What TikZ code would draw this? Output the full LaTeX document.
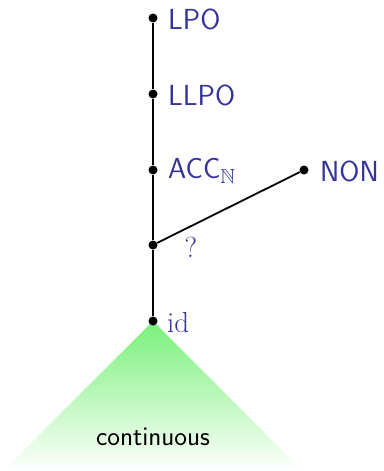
\documentclass[tikz,border=0pt]{standalone}
\usepackage{amsmath,amssymb}
\usetikzlibrary{positioning,calc}
\definecolor{lblblue}{RGB}{51,51,153}
\definecolor{contgreen}{RGB}{120,240,120}
\tikzset{
  dot/.style={circle,fill=black,inner sep=0pt,minimum size=9pt},
  lbl/.style={text=lblblue,font=\fontsize{29}{34}\selectfont\sffamily,inner sep=0pt},
  seriflbl/.style={text=lblblue,font=\fontsize{29}{34}\selectfont,inner sep=0pt},
}
\begin{document}
\begin{tikzpicture}[x=1pt,y=-1pt]
    \useasboundingbox (0,0) rectangle (383,471);

    % continuous region below id
    \shade[top color=contgreen,bottom color=white] (153,321) -- (3,471) -- (303,471) -- cycle;
    \node[font=\fontsize{27}{32}\selectfont\sffamily,inner sep=0pt] (cont) at (153,437) {continuous};

    \node[dot] (lpo) at (153,18) {};
    \node[dot] (llpo) at (153,94) {};
    \node[dot] (acc) at (153,170) {};
    \node[dot] (qq) at (153,245) {};
    \node[dot] (id) at (153,321) {};
    \node[dot] (non) at (304,170) {};

    \node[lbl,anchor=west] (lpolbl) at (168,19) {LPO};
    \node[lbl,anchor=west] (llpolbl) at (168,95) {LLPO};
    \node[lbl,anchor=west] (acclbl) at (168,171) {ACC$_{\mathbb{N}}$};
    \node[lbl,anchor=west] (nonlbl) at (320,171) {NON};
    \node[seriflbl] (qlbl) at (191,247) {?};
    \node[seriflbl,anchor=west] (idlbl) at (167,323) {id};

    \draw[line width=2pt] (id) -- (qq) -- (acc) -- (llpo) -- (lpo);
    \draw[line width=1.8pt] (qq) -- (non);
\end{tikzpicture}
\end{document}
